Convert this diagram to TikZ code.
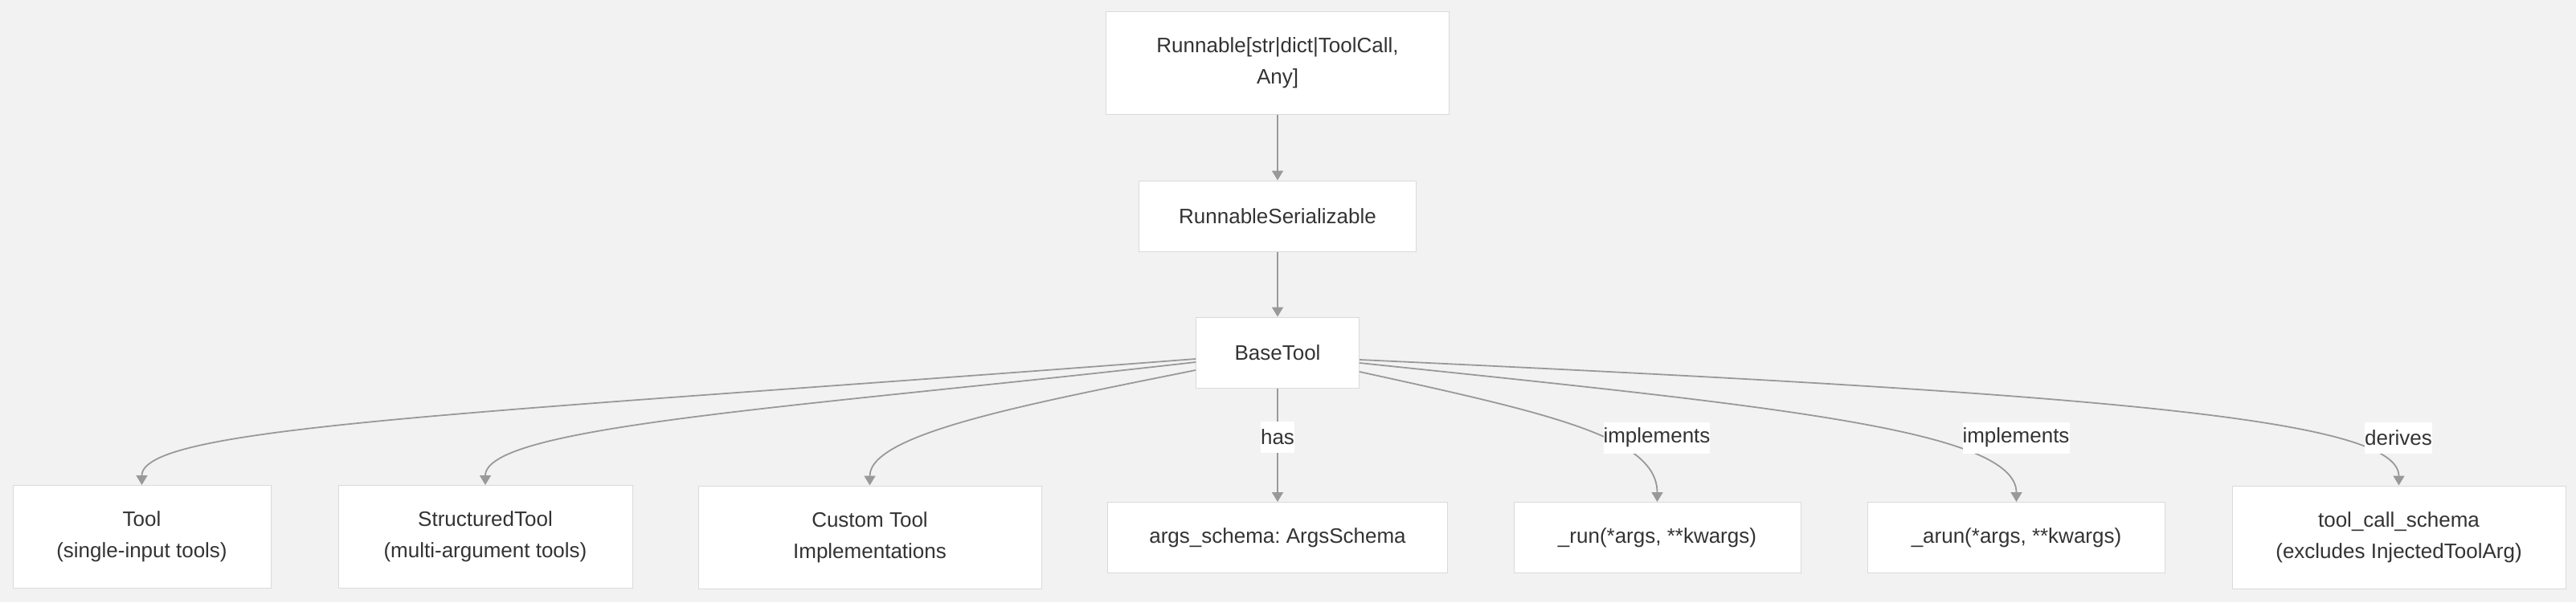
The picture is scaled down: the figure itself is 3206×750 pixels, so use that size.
\documentclass[tikz,border=0pt]{standalone}
\usepackage{fontspec}
\setmainfont{Liberation Sans}
\usepackage{tikz}
\usetikzlibrary{arrows.meta,positioning,calc}
\definecolor{bgcol}{HTML}{F2F2F2}
\definecolor{boxline}{HTML}{DADADA}
\definecolor{edgecol}{HTML}{999999}
\definecolor{txtcol}{HTML}{333333}
\frenchspacing

\begin{document}
\begin{tikzpicture}[x=0.5pt,y=-0.5pt,
				class node/.style={rectangle,fill=white,draw=boxline,line width=0.5pt,
					text=txtcol,font=\fontsize{13pt}{19.5pt}\selectfont,align=center,
					inner sep=0pt,minimum height=44pt},
				tall/.style={minimum height=64pt},
				link/.style={color=edgecol,draw,line width=0.9pt,-{Triangle[length=6pt,width=7pt]}},
				link label/.style={fill=white,text=txtcol,font=\fontsize{13pt}{19.5pt}\selectfont,
					inner xsep=0pt,inner ysep=0pt,minimum height=19.5pt}]
				
				\fill[bgcol] (0,0) rectangle (3206,750);
				
				\node[class node,tall,minimum width=213.5pt] (R) at (1590,78.5) {Runnable[str|dict|ToolCall,\\Any]};
				\node[class node,minimum width=172.5pt] (RS) [below of=R,node distance=95.25pt] {RunnableSerializable};
				\node[class node,minimum width=101.5pt] (BT) [below of=RS,node distance=85pt] {BaseTool};
				
				\node[class node,tall,minimum width=160.5pt] (Tool) at (176.5,668.5) {Tool\\(single-input tools)};
				\node[class node,tall,minimum width=183pt] (ST) at (604,668.5) {StructuredTool\\(multi-argument tools)};
				\node[class node,tall,minimum width=213.5pt] (CT) at (1082.5,669) {Custom Tool\\Implementations};
				\node[class node,minimum width=211.5pt] (AS) at (1590,669.5) {args\_schema: ArgsSchema};
				\node[class node,minimum width=178.5pt] (Run) at (2062.5,669.5) {\_run(*args, **kwargs)};
				\node[class node,minimum width=185pt] (ARun) at (2509.5,669.5) {\_arun(*args, **kwargs)};
				\node[class node,tall,minimum width=207.5pt] (TCS) at (2985.5,669) {tool\_call\_schema\\(excludes InjectedToolArg)};
				
				\path[link,every edge/.style={link}]
				(R) edge (RS)
				(RS) edge (BT)
				(BT) edge node[link label,pos=0.43] (has) {has} (AS);
				
				\draw[link] ($(BT.west)+(0,8)$) .. controls (600,515) and (176.5,530) .. (Tool.north);
				\draw[link] ($(BT.west)+(0,12)$) .. controls (1000,507) and (604,530) .. (ST.north);
				\draw[link] ($(BT.west)+(0,22)$) .. controls (1280,503) and (1082.5,540) .. (CT.north);
				\draw[link] ($(BT.east)+(0,24)$) .. controls (1930,515) and (2062.5,545) .. (Run.north);
				\draw[link] ($(BT.east)+(0,13)$) .. controls (2200,505) and (2509.5,535) .. (ARun.north);
				\draw[link] ($(BT.east)+(0,9)$) .. controls (2600,490) and (2985.5,520) .. (TCS.north);
				
				\node[link label] (impl1) at (2062,545) {implements};
				\node[link label] (impl2) at (2509,545) {implements};
				\node[link label] (der) at (2985,545) {derives};
			\end{tikzpicture}
\end{document}
